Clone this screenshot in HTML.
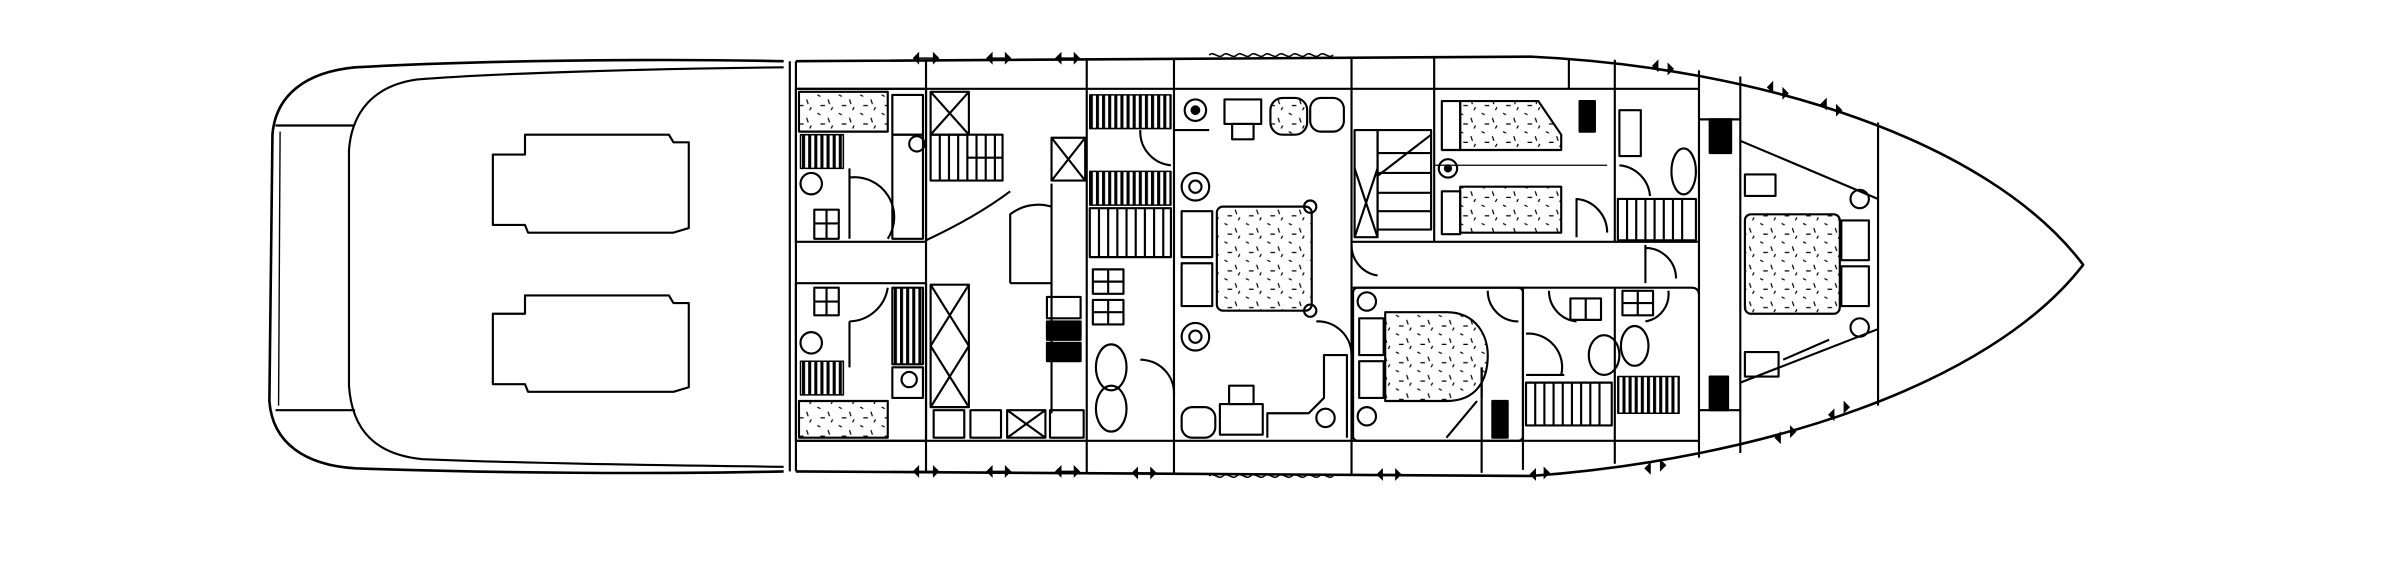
<!DOCTYPE html>
<html><head><meta charset="utf-8"><style>
html,body{margin:0;padding:0;background:#fff;width:2400px;height:564px;overflow:hidden}
svg{display:block}
</style></head><body>
<svg width="2400" height="564" viewBox="0 0 1568 368.5" preserveAspectRatio="none" xmlns="http://www.w3.org/2000/svg">
<defs>
<pattern id="dots" width="14" height="12" patternUnits="userSpaceOnUse">
<path d="M2,2 l2,1 M9,5 l1,3 M4,9 l3,0 M12,10 l-1,2" stroke="#000" stroke-width="0.8"/>
</pattern>
<pattern id="stripe" width="4" height="10" patternUnits="userSpaceOnUse">
<rect x="0" y="0" width="2" height="10" fill="#000"/>
</pattern>
</defs>
<g fill="none" stroke="#000" stroke-width="1.4" stroke-linejoin="round">
<!-- stern deck -->
<path d="M512,40 C420,38 300,40 232,44 C200,47 180,62 178,88 L176,262 C178,290 200,304 232,306 C320,309 430,310 512,308" stroke-width="1.7"/>
<path d="M512,44 C420,45 320,48 272,52 C245,56 230,72 228,98 L228,252 C230,282 246,297 276,300 C350,303 440,304 512,305"/>
<line x1="180" y1="82" x2="231" y2="82"/>
<line x1="180" y1="268" x2="232" y2="268"/>
<line x1="183" y1="86" x2="182" y2="265" stroke-width="0.9"/>
<path d="M343,88 L437,88 L440,93 L450,93 L450,149 L440,152 L345,152 L343,147 L322,147 L322,101 L343,101 Z"/>
<path d="M343,193 L437,193 L440,198 L450,198 L450,253 L440,256 L345,256 L343,251 L322,251 L322,205 L343,205 Z"/>
<line x1="516" y1="40" x2="516" y2="308"/>
<line x1="520" y1="40" x2="520" y2="308"/>
<!-- main hull -->
<path d="M520,40 L1000,37 C1150,44 1300,92 1361,173 C1300,252 1150,300 1000,311 L520,308" stroke-width="1.7"/>
<!-- inner lines -->
<line x1="520" y1="58" x2="1110" y2="58"/>
<line x1="520" y1="288" x2="1110" y2="288"/>
<line x1="1110" y1="78" x2="1137" y2="78"/>
<line x1="1110" y1="268" x2="1137" y2="268"/>
<!-- bulkheads -->
<line x1="605" y1="39" x2="605" y2="309"/>
<line x1="710" y1="38" x2="710" y2="309"/>
<line x1="767" y1="38" x2="767" y2="310"/>
<line x1="883" y1="37" x2="883" y2="310"/>
<line x1="937" y1="37" x2="937" y2="158"/>
<line x1="1025" y1="38" x2="1025" y2="58"/>
<line x1="1055" y1="39" x2="1055" y2="158"/>
<line x1="1110" y1="46" x2="1110" y2="299"/>
<line x1="1137" y1="50" x2="1137" y2="296"/>
<line x1="1227" y1="80" x2="1227" y2="265"/>
<line x1="995" y1="188" x2="995" y2="307"/>
<line x1="1055" y1="188" x2="1055" y2="303"/>
<line x1="968" y1="240" x2="968" y2="309"/>
<!-- aft cabins -->
<rect x="520" y="58" width="85" height="100"/>
<rect x="520" y="185" width="85" height="103"/>
<rect x="522" y="60" width="58" height="26" fill="url(#dots)"/>
<rect x="522" y="262" width="58" height="24" fill="url(#dots)"/>
<rect x="523" y="88" width="28" height="22" fill="url(#stripe)" stroke-width="1"/>
<rect x="523" y="236" width="28" height="22" fill="url(#stripe)" stroke-width="1"/>
<circle cx="530" cy="120" r="7"/><circle cx="530" cy="224" r="7"/>
<rect x="532" y="137" width="16" height="19"/><line x1="540" y1="137" x2="540" y2="156"/><line x1="532" y1="146" x2="548" y2="146"/>
<rect x="532" y="188" width="16" height="18"/><line x1="540" y1="188" x2="540" y2="206"/><line x1="532" y1="197" x2="548" y2="197"/>
<path d="M555,110 L555,156 M555,116 A26,26 0 0 1 580,156"/>
<path d="M555,210 L555,240 M555,210 A26,26 0 0 0 580,188"/>
<rect x="583" y="62" width="20" height="26"/><rect x="583" y="88" width="20" height="68"/>
<rect x="583" y="188" width="20" height="50" fill="url(#stripe)"/>
<rect x="583" y="240" width="20" height="20"/><circle cx="594" cy="248" r="5"/>
<circle cx="599" cy="94" r="5"/>
<!-- stairs and X boxes aft -->
<rect x="608" y="60" width="25" height="28"/><path d="M608,60 L633,88 M633,60 L608,88"/>
<rect x="608" y="88" width="47" height="30"/>
<path d="M614,88 V118 M620,88 V118 M626,88 V118 M632,88 V118 M638,88 V118 M644,88 V118 M650,88 V118 M632,103 H655"/>
<path d="M605,157 C620,150 640,140 660,125"/>
<rect x="608" y="186" width="25" height="80"/><path d="M608,186 L633,226 M633,186 L608,226 M608,226 L633,266 M633,226 L608,266"/>
<rect x="610" y="268" width="20" height="18"/><rect x="634" y="268" width="20" height="18"/>
<rect x="658" y="268" width="25" height="18"/><path d="M658,268 L683,286 M683,268 L658,286"/>
<rect x="686" y="268" width="22" height="18"/>
<!-- saloon middle -->
<rect x="687" y="90" width="22" height="28"/><path d="M687,90 L709,118 M709,90 L687,118"/>
<line x1="687" y1="120" x2="687" y2="270"/>
<path d="M660,185 L660,140 A30,30 0 0 1 687,135 M660,185 L687,185"/>
<rect x="684" y="194" width="22" height="14"/>
<rect x="684" y="210" width="22" height="12" fill="#000"/><rect x="684" y="224" width="22" height="12" fill="#000"/>
<!-- closet block 710-767 -->
<rect x="712" y="62" width="53" height="22" fill="url(#stripe)" stroke-width="1"/>
<rect x="712" y="112" width="53" height="22" fill="url(#stripe)" stroke-width="1"/>
<rect x="712" y="136" width="53" height="32"/>
<path d="M718,136 V168 M724,136 V168 M730,136 V168 M736,136 V168 M742,136 V168 M748,136 V168 M754,136 V168 M760,136 V168"/>
<path d="M745,85 A22,22 0 0 0 765,108"/>
<rect x="714" y="176" width="20" height="16"/><line x1="724" y1="176" x2="724" y2="192"/><line x1="714" y1="184" x2="734" y2="184"/>
<rect x="714" y="196" width="20" height="16"/><line x1="724" y1="196" x2="724" y2="212"/><line x1="714" y1="204" x2="734" y2="204"/>
<ellipse cx="726" cy="240" rx="10" ry="15"/><ellipse cx="726" cy="267" rx="10" ry="15"/>
<path d="M745,235 A22,22 0 0 1 767,258"/>
<!-- master cabin -->
<rect x="795" y="135" width="62" height="68" rx="4" fill="url(#dots)"/>
<rect x="772" y="138" width="20" height="30"/><rect x="772" y="172" width="20" height="28"/>
<circle cx="856" cy="135" r="4"/><circle cx="856" cy="203" r="4"/>
<circle cx="781" cy="72" r="7"/><circle cx="781" cy="72" r="2.5" fill="#000"/>
<circle cx="781" cy="122" r="9"/><circle cx="781" cy="122" r="4"/>
<circle cx="781" cy="220" r="9"/><circle cx="781" cy="220" r="4"/>
<rect x="800" y="65" width="24" height="16"/><rect x="805" y="81" width="14" height="10"/>
<rect x="830" y="64" width="24" height="24" rx="8" fill="url(#dots)"/><rect x="856" y="64" width="22" height="22" rx="7"/>
<rect x="797" y="264" width="28" height="20"/><rect x="803" y="252" width="16" height="12"/>
<rect x="772" y="266" width="22" height="20" rx="7"/>
<path d="M828,286 L828,270 L855,270 L865,260 L865,232 L880,232 L880,286"/>
<circle cx="866" cy="273" r="6"/>
<path d="M767,85 L790,85 M883,232 A22,22 0 0 0 860,210"/>
<!-- stairs fwd of master -->
<rect x="885" y="85" width="15" height="70"/><path d="M885,110 L900,155 M900,110 L885,155"/>
<rect x="900" y="85" width="35" height="65"/>
<path d="M900,100 H935 M900,113 H935 M900,126 H935 M900,138 H935 M900,115 L935,88"/>
<path d="M883,160 A20,20 0 0 0 900,180"/>
<!-- corridor -->
<line x1="883" y1="158" x2="1110" y2="158"/>
<path d="M883,188 L1105,188 Q1110,188 1110,193"/>
<path d="M1075,160 V185 M1075,162 A20,20 0 0 1 1095,182"/>
<!-- bunk cabin -->
<rect x="942" y="66" width="12" height="32"/>
<path d="M954,66 L1005,66 L1020,88 L1020,98 L954,98 Z" fill="url(#dots)"/>
<rect x="942" y="125" width="12" height="28"/>
<path d="M954,122 L1020,122 L1020,152 L954,152 Z" fill="url(#dots)"/>
<line x1="937" y1="108" x2="1050" y2="108" stroke-width="0.8"/>
<circle cx="946" cy="110" r="6"/><circle cx="946" cy="110" r="2" fill="#000"/>
<path d="M1030,155 V130 A22,22 0 0 1 1050,152"/>
<rect x="1032" y="66" width="10" height="20" fill="#000"/>
<!-- top head -->
<rect x="1058" y="72" width="14" height="30"/>
<ellipse cx="1100" cy="112" rx="8" ry="15"/>
<path d="M1058,108 A22,22 0 0 1 1078,128"/>
<rect x="1057" y="130" width="51" height="27"/>
<path d="M1063,130 V157 M1069,130 V157 M1075,130 V157 M1081,130 V157 M1087,130 V157 M1093,130 V157 M1099,130 V157"/>
<rect x="1117" y="78" width="14" height="22" fill="#000"/>
<!-- aft-starboard cabin -->
<rect x="884" y="188" width="111" height="100" rx="3"/>
<path d="M905,204 L945,204 C965,204 972,220 972,232 C972,248 965,262 945,262 L905,262 Z" fill="url(#dots)"/>
<rect x="888" y="208" width="16" height="24"/><rect x="888" y="236" width="16" height="24"/>
<circle cx="893" cy="197" r="6"/><circle cx="893" cy="272" r="6"/>
<path d="M945,286 L965,262 M968,240 L968,260"/>
<rect x="975" y="262" width="10" height="24" fill="#000"/>
<path d="M972,190 A20,20 0 0 0 992,210"/>
<!-- bottom heads -->
<path d="M997,218 A22,22 0 0 1 1020,245 M997,245 H1022"/>
<path d="M1012,190 A20,20 0 0 0 1030,210"/>
<rect x="1026" y="195" width="20" height="14"/><line x1="1036" y1="195" x2="1036" y2="209"/>
<rect x="1060" y="190" width="20" height="16"/><line x1="1070" y1="190" x2="1070" y2="206"/><line x1="1060" y1="198" x2="1080" y2="198"/>
<ellipse cx="1048" cy="232" rx="10" ry="13"/><ellipse cx="1068" cy="226" rx="9" ry="13"/>
<rect x="997" y="250" width="56" height="28"/>
<path d="M1003,250 V278 M1009,250 V278 M1015,250 V278 M1021,250 V278 M1027,250 V278 M1033,250 V278 M1039,250 V278 M1045,250 V278"/>
<rect x="1057" y="246" width="40" height="24" fill="url(#stripe)" stroke-width="1"/>
<path d="M1090,190 A18,18 0 0 1 1075,210"/>
<rect x="1117" y="246" width="12" height="22" fill="#000"/>
<!-- bow cabin -->
<path d="M1137,92 L1227,130 M1137,250 L1227,215"/>
<rect x="1140" y="140" width="62" height="65" rx="4" fill="url(#dots)"/>
<rect x="1203" y="144" width="18" height="26"/><rect x="1203" y="174" width="18" height="26"/>
<circle cx="1215" cy="130" r="6"/><circle cx="1215" cy="214" r="6"/>
<rect x="1140" y="114" width="20" height="14"/>
<rect x="1140" y="230" width="22" height="16"/>
<path d="M1165,235 L1195,222"/>
</g>
<!-- hull fittings -->
<g fill="#000" stroke="#000" stroke-width="1">
<path d="M597,38 l3,-3 l0,6 z M613,38 l-3,-3 l0,6 z M600,38 H610"/>
<path d="M645,38 l3,-3 l0,6 z M660,38 l-3,-3 l0,6 z M648,38 H657"/>
<path d="M690,38 l3,-3 l0,6 z M705,38 l-3,-3 l0,6 z M693,38 H702"/>
<path d="M597,308 l3,-3 l0,6 z M613,308 l-3,-3 l0,6 z M600,308 H610"/>
<path d="M645,308 l3,-3 l0,6 z M660,308 l-3,-3 l0,6 z M648,308 H657"/>
<path d="M690,308 l3,-3 l0,6 z M705,308 l-3,-3 l0,6 z M693,308 H702"/>
<path d="M740,309 l3,-3 l0,6 z M755,309 l-3,-3 l0,6 z M743,309 H752"/>
<path d="M900,310 l3,-3 l0,6 z M915,310 l-3,-3 l0,6 z M903,310 H912"/>
<path d="M1000,310 l3,-3 l0,6 z M1012,309 l-3,-3 l0,6 z"/>
<path d="M1075,306 l3,-3 l0,6 z M1088,304 l-3,-3 l0,6 z"/>
<path d="M1080,43 l3,-3 l0,6 z M1093,45 l-3,-3 l0,6 z"/>
<path d="M1155,57 l3,-3 l0,6 z M1168,61 l-3,-3 l0,6 z"/>
<path d="M1190,68 l3,-3 l0,6 z M1203,72 l-3,-3 l0,6 z"/>
<path d="M1160,286 l3,-3 l0,6 z M1173,282 l-3,-3 l0,6 z"/>
<path d="M1195,271 l3,-3 l0,6 z M1208,266 l-3,-3 l0,6 z"/>
</g>
<g fill="none" stroke="#000" stroke-width="1">
<path d="M790,36 c3,-3 6,3 9,0 c3,-3 6,3 9,0 c3,-3 6,3 9,0 c3,-3 6,3 9,0 c3,-3 6,3 9,0 c3,-3 6,3 9,0 c3,-3 6,3 9,0 c3,-3 6,3 9,0 c3,-3 6,3 9,0"/>
<path d="M790,311 c3,-3 6,3 9,0 c3,-3 6,3 9,0 c3,-3 6,3 9,0 c3,-3 6,3 9,0 c3,-3 6,3 9,0 c3,-3 6,3 9,0 c3,-3 6,3 9,0 c3,-3 6,3 9,0 c3,-3 6,3 9,0"/>
</g>
</svg>
</body></html>
